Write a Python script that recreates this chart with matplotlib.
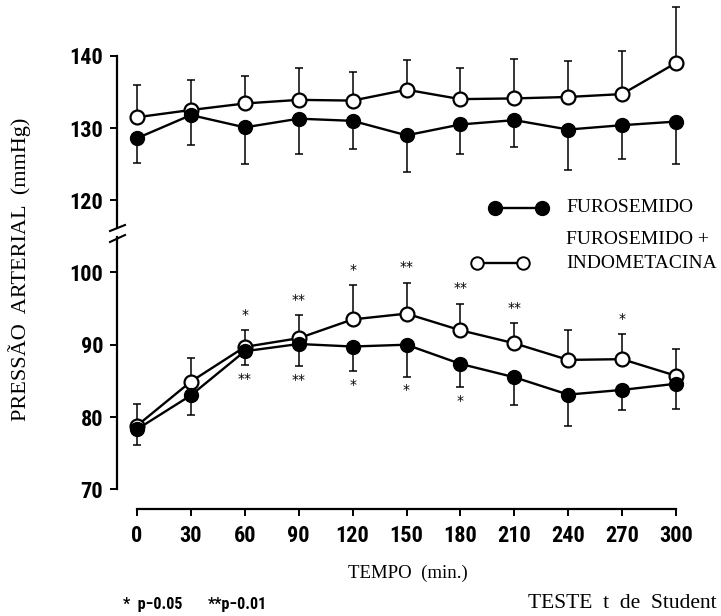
import matplotlib
matplotlib.use("Agg")
import matplotlib.pyplot as plt
from matplotlib.lines import Line2D
import numpy as np

# Dados (médias e erro-padrão)
tempo = [0, 30, 60, 90, 120, 150, 180, 210, 240, 270, 300]

# painel superior (pressão sistólica)
furo_sup = [128.6, 131.8, 130.1, 131.3, 131.0, 129.0, 130.5, 131.1, 129.8, 130.4, 130.9]
furo_sup_ep = [3.4, 4.2, 5.0, 4.9, 3.9, 5.0, 4.1, 3.7, 5.6, 4.7, 5.8]
indo_sup = [131.5, 132.5, 133.4, 133.9, 133.8, 135.3, 134.0, 134.1, 134.3, 134.7, 139.0]
indo_sup_ep = [4.4, 4.1, 3.8, 4.4, 3.9, 4.1, 4.3, 5.4, 4.9, 6.0, 7.7]

# painel inferior (pressão diastólica)
furo_inf = [78.3, 83.0, 89.1, 90.1, 89.75, 90.0, 87.35, 85.5, 83.1, 83.75, 84.6]
furo_inf_ep = [2.2, 2.7, 1.9, 3.1, 3.35, 4.4, 3.25, 3.9, 4.4, 2.75, 3.5]
indo_inf = [78.8, 84.9, 89.7, 90.9, 93.5, 94.3, 92.0, 90.2, 87.9, 88.0, 85.7]
indo_inf_ep = [3.0, 3.2, 2.3, 3.2, 4.7, 4.3, 3.7, 2.8, 4.1, 3.5, 3.7]

# significância (acima da curva aberta / abaixo da curva cheia)
sig_indo = ["", "", "*", "**", "*", "**", "**", "**", "", "*", ""]
sig_furo = ["", "", "**", "**", "*", "*", "*", "", "", "", ""]

yticks_sup = [120, 130, 140]
yticks_inf = [70, 80, 90, 100]

serif = ["Liberation Serif", "DejaVu Serif"]
narrow = ["Roboto Condensed", "Liberation Sans Narrow", "DejaVu Sans"]

W, H = 721, 616
fig = plt.figure(figsize=(W / 100, H / 100), dpi=100)

left = 137 / W
width = 539 / W
ax_sup = fig.add_axes([left, 1 - 228 / H, width, (228 - 55.7) / H])
ax_inf = fig.add_axes([left, 1 - 489.3 / H, width, (489.3 - 237) / H])

ax_sup.set_ylim(116.2, 140)
ax_inf.set_ylim(70, 104.9)

lw = 1.7
ms = 10
desloc = 14.4  # 20 px em pontos


def desenha(ax, furo, furo_ep, indo, indo_ep):
    zero = np.zeros(len(tempo))
    ax.errorbar(tempo, indo, yerr=[zero, indo_ep], fmt="none", ecolor="black",
                elinewidth=1.1, capsize=3, capthick=1.1, clip_on=False, zorder=2)
    ax.errorbar(tempo, furo, yerr=[furo_ep, zero], fmt="none", ecolor="black",
                elinewidth=1.1, capsize=3, capthick=1.1, clip_on=False, zorder=2)
    ax.plot(tempo, indo, "-o", color="black", lw=lw, ms=ms, mfc="white",
            mec="black", mew=1.6, clip_on=False, zorder=3)
    ax.plot(tempo, furo, "-o", color="black", lw=lw, ms=ms, mfc="black",
            mec="black", clip_on=False, zorder=4)


desenha(ax_sup, furo_sup, furo_sup_ep, indo_sup, indo_sup_ep)
desenha(ax_inf, furo_inf, furo_inf_ep, indo_inf, indo_inf_ep)

# asteriscos
for t, v, e, s in zip(tempo, indo_inf, indo_inf_ep, sig_indo):
    if s:
        ax_inf.annotate(s, (t, v + e), xytext=(0, 6), textcoords="offset points",
                        ha="center", va="bottom", fontsize=10, family="DejaVu Sans")
for t, v, e, s in zip(tempo, furo_inf, furo_inf_ep, sig_furo):
    if s:
        ax_inf.annotate(s, (t, v - e), xytext=(0, -15), textcoords="offset points",
                        ha="center", va="bottom", fontsize=10, family="DejaVu Sans")

ax_sup.set_yticks(yticks_sup)
ax_inf.set_yticks(yticks_inf)

for ax in (ax_sup, ax_inf):
    ax.set_xlim(0, 300)
    ax.spines["top"].set_visible(False)
    ax.spines["right"].set_visible(False)
    ax.spines["left"].set_position(("outward", desloc))
    ax.spines["left"].set_linewidth(1.6)
    ax.tick_params(axis="y", length=5, width=1.4, pad=5)
    for lab in ax.get_yticklabels():
        lab.set_family(narrow)
        lab.set_stretch("condensed")
        lab.set_fontweight("bold")
        lab.set_fontsize(16)

ax_sup.spines["bottom"].set_visible(False)
ax_sup.set_xticks([])

ax_inf.spines["bottom"].set_position(("outward", desloc))
ax_inf.spines["bottom"].set_linewidth(1.6)
ax_inf.set_xticks(tempo)
ax_inf.set_xticklabels([str(t) for t in tempo])
ax_inf.tick_params(axis="x", length=5, width=1.4, pad=6)
for lab in ax_inf.get_xticklabels():
    lab.set_family(narrow)
    lab.set_stretch("condensed")
    lab.set_fontweight("bold")
    lab.set_fontsize(16)

# marcas de quebra do eixo
xs = [110 / W, 125 / W]
fig.add_artist(Line2D(xs, [1 - 231 / H, 1 - 225 / H], color="black", lw=1.5))
fig.add_artist(Line2D(xs, [1 - 242 / H, 1 - 235 / H], color="black", lw=1.5))

# legenda
fig.add_artist(Line2D([495 / W, 542 / W], [1 - 208 / H] * 2, color="black",
                      lw=lw, marker="o", ms=ms, mfc="black", mec="black"))
fig.add_artist(Line2D([477 / W, 523 / W], [1 - 263 / H] * 2, color="black",
                      lw=lw, marker="o", ms=ms - 1, mfc="white", mec="black", mew=1.4))
fig.text(566 / W, 1 - 208 / H, "FUROSEMIDO", family=serif, fontsize=14, va="center")
fig.text(566 / W, 1 - 240 / H, "FUROSEMIDO +", family=serif, fontsize=14, va="center")
fig.text(566 / W, 1 - 263 / H, "INDOMETACINA", family=serif, fontsize=14, va="center")

# rótulos dos eixos
fig.text(20 / W, 1 - 269 / H, "PRESSÃO  ARTERIAL  (mmHg)", family=serif, fontsize=16,
         rotation=90, ha="center", va="center")
fig.text(408 / W, 1 - 573 / H, "TEMPO  (min.)", family=serif, fontsize=13.5,
         ha="center", va="center")

# notas de rodapé
fig.text(123 / W, 1 - 604 / H, "*  p−0.05", family=narrow, stretch="condensed",
         fontweight="bold", fontsize=11.5, va="center")
fig.text(208 / W, 1 - 604 / H, "**p−0.01", family=narrow, stretch="condensed",
         fontweight="bold", fontsize=11.5, va="center")
fig.text(717 / W, 1 - 603 / H, "TESTE  t  de  Student", family=serif, fontsize=15.5,
         ha="right", va="center")

fig.savefig("out.png", dpi=100)
